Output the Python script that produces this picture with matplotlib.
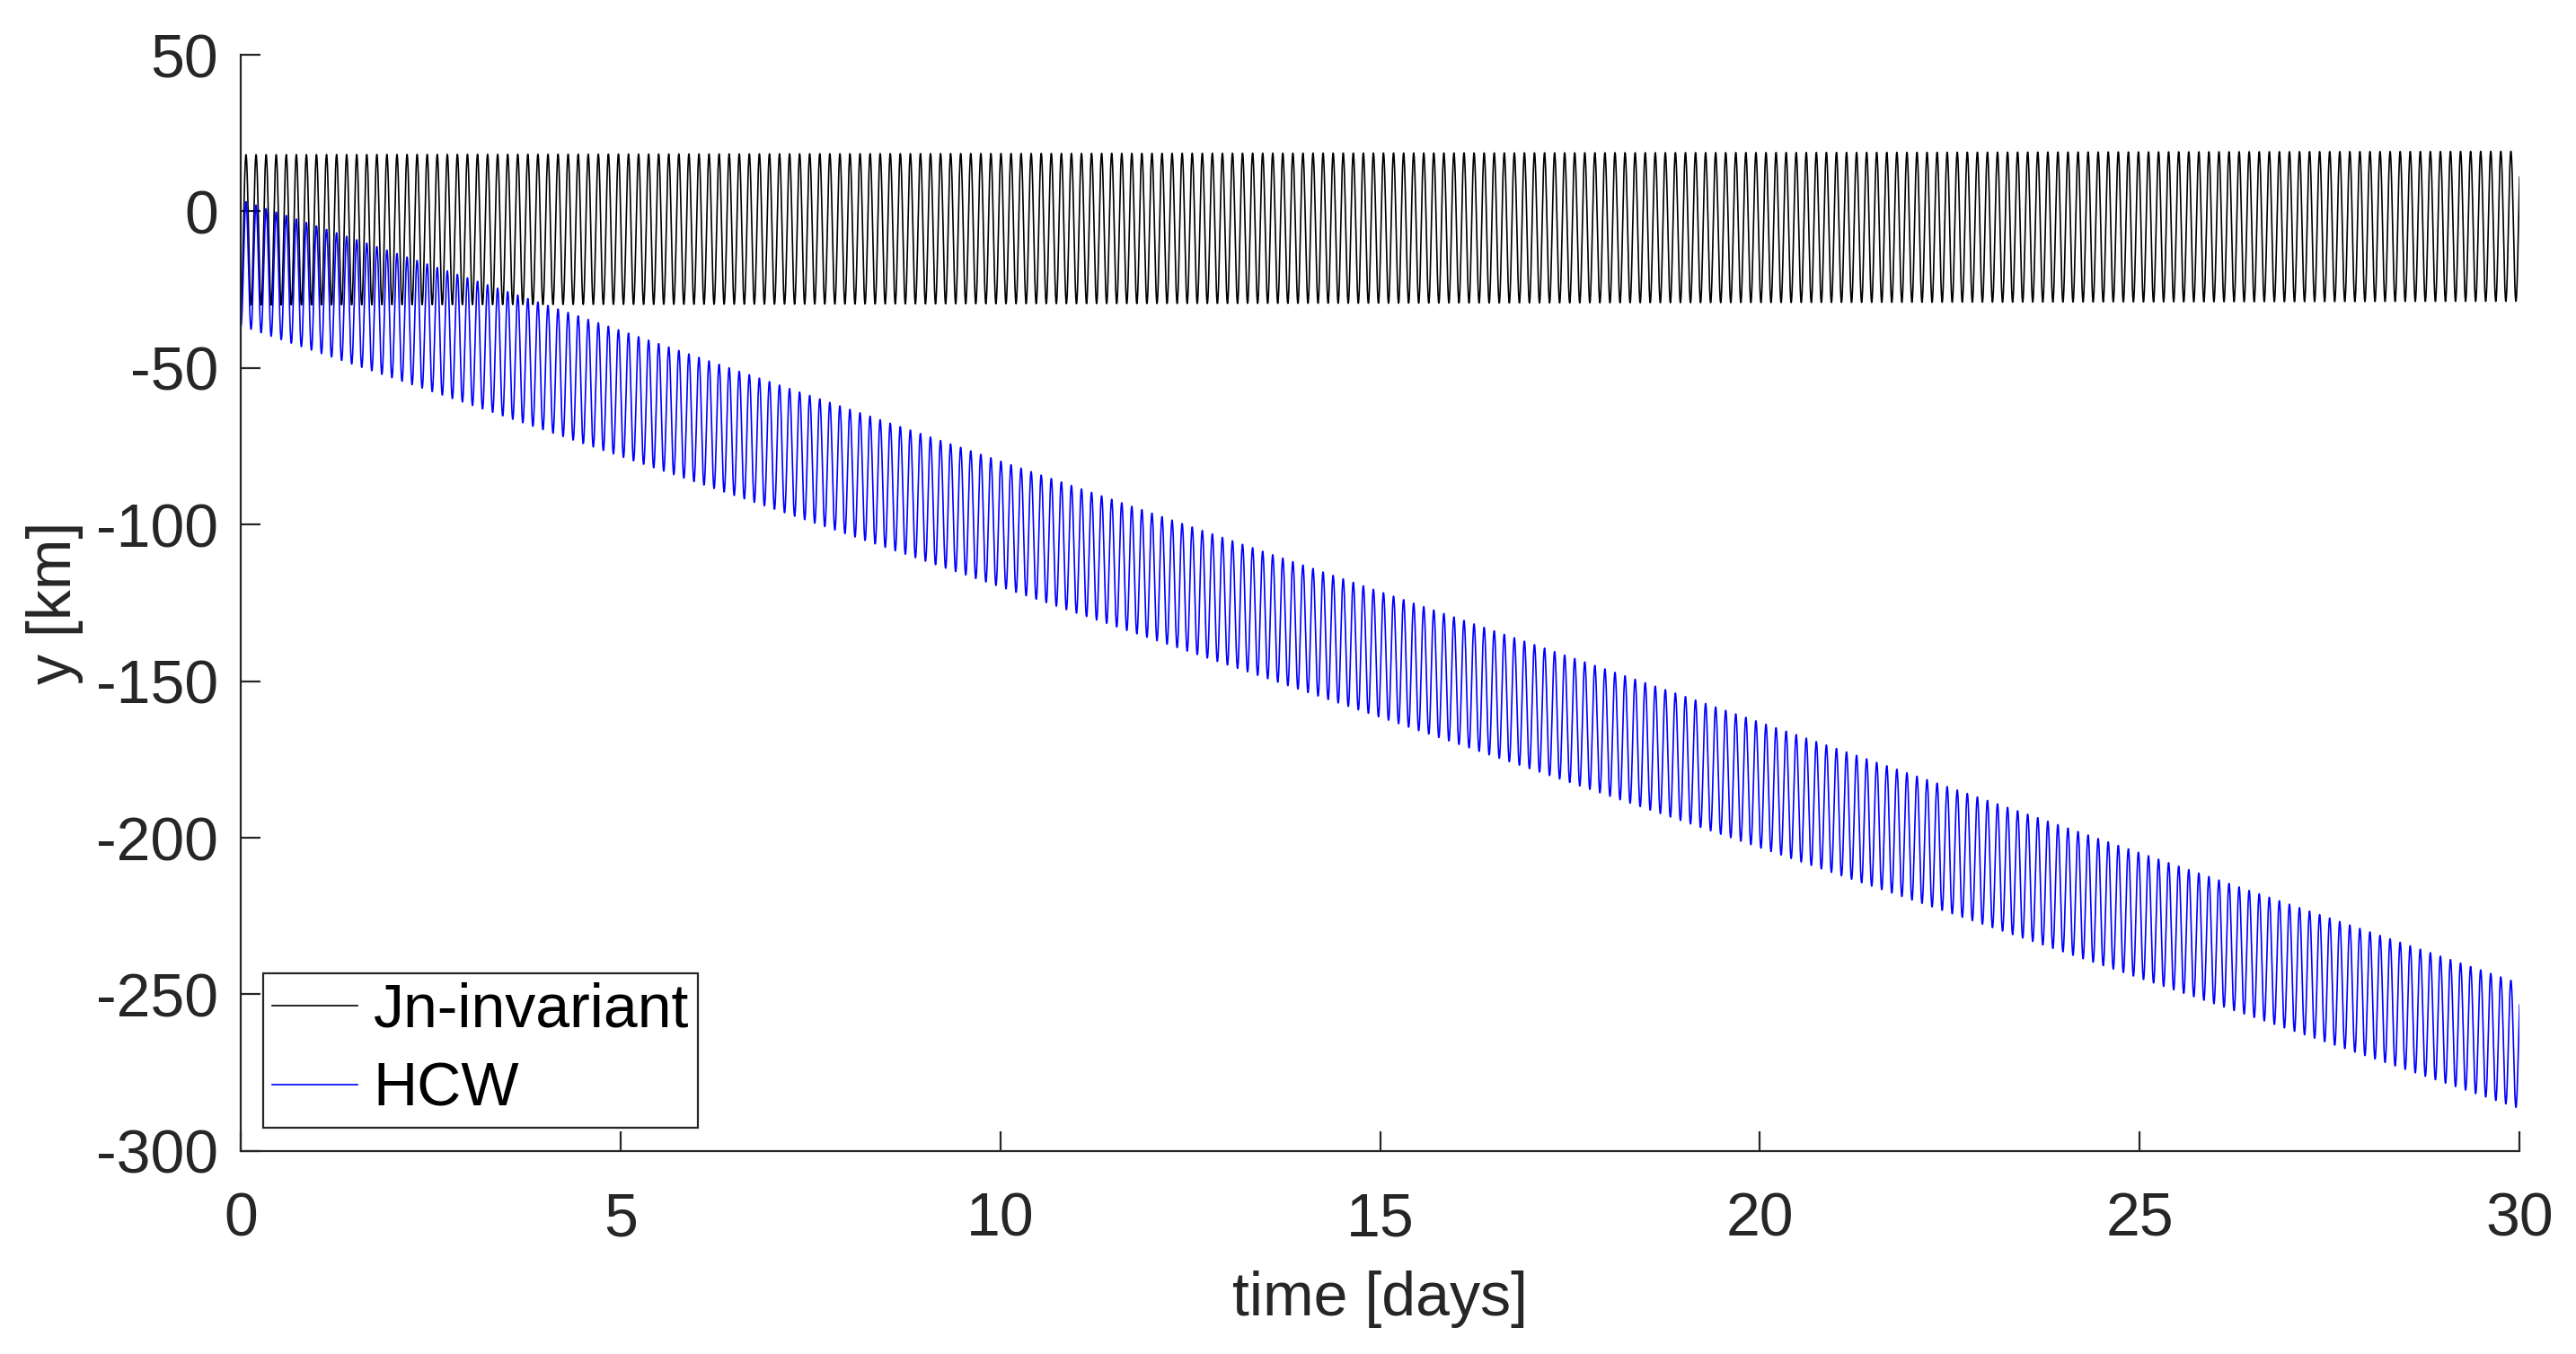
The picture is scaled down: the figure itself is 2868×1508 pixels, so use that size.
import numpy as np
import matplotlib
matplotlib.use("Agg")
import matplotlib.pyplot as plt

# valores (km), nos dias 0, 10, 20, 30
dias_ref = [0, 10, 20, 30]
jn_topo = [18.1, 18.5, 18.8, 19.2]
jn_fundo = [-29.9, -29.5, -29.1, -28.7]
hcw_topo = [3.7, -79.7, -163.1, -246.5]
hcw_fundo = [-36.5, -119.9, -203.2, -286.5]

# numero de oscilacoes visiveis em 30 dias e fase inicial (fracao de ciclo)
n_ciclos = 226.4
fase = -0.036

t = np.linspace(0, 30, 40000)
osc = -np.cos(2 * np.pi * (n_ciclos * t / 30 + fase))

def serie(topo, fundo):
    topo_t = np.interp(t, dias_ref, topo)
    fundo_t = np.interp(t, dias_ref, fundo)
    return (topo_t + fundo_t) / 2 + (topo_t - fundo_t) / 2 * osc

y_jn = serie(jn_topo, jn_fundo)
y_hcw = serie(hcw_topo, hcw_fundo)

plt.rcParams['font.family'] = ['Liberation Sans', 'DejaVu Sans']
plt.rcParams['axes.unicode_minus'] = False
cinza = (0.15, 0.15, 0.15)

fig = plt.figure(figsize=(14.34, 7.54), dpi=200)
ax = fig.add_axes([0.0934, 0.150, 0.8847, 0.8095])

ax.plot(t, y_jn, color='black', linewidth=0.6, label='Jn-invariant')
ax.plot(t, y_hcw, color='blue', linewidth=0.6, label='HCW')

ax.set_xlim(0, 30)
ax.set_ylim(-300, 50)
ax.set_xticks(np.arange(0, 31, 5))
ax.set_yticks(np.arange(-300, 51, 50))
ax.set_xlabel('time [days]', fontsize=24.5, color=cinza, labelpad=9)
ax.set_ylabel('y [km]', fontsize=24.5, color=cinza, labelpad=5)

for lado in ['top', 'right']:
    ax.spines[lado].set_visible(False)
for lado in ['left', 'bottom']:
    ax.spines[lado].set_color(cinza)
    ax.spines[lado].set_linewidth(0.8)
ax.tick_params(direction='in', length=8, width=0.8, colors=cinza,
               labelsize=24.5)
ax.tick_params(axis='x', pad=16)
ax.tick_params(axis='y', pad=9)

leg = ax.legend(loc='lower left', bbox_to_anchor=(0.0099, 0.0213),
                fontsize=24.5, handlelength=1.4, handletextpad=0.25,
                borderpad=0.15, labelspacing=0.35, borderaxespad=0,
                fancybox=False, framealpha=1)
leg.get_frame().set_edgecolor(cinza)
leg.get_frame().set_linewidth(0.8)

fig.savefig('out.png', dpi=200)
